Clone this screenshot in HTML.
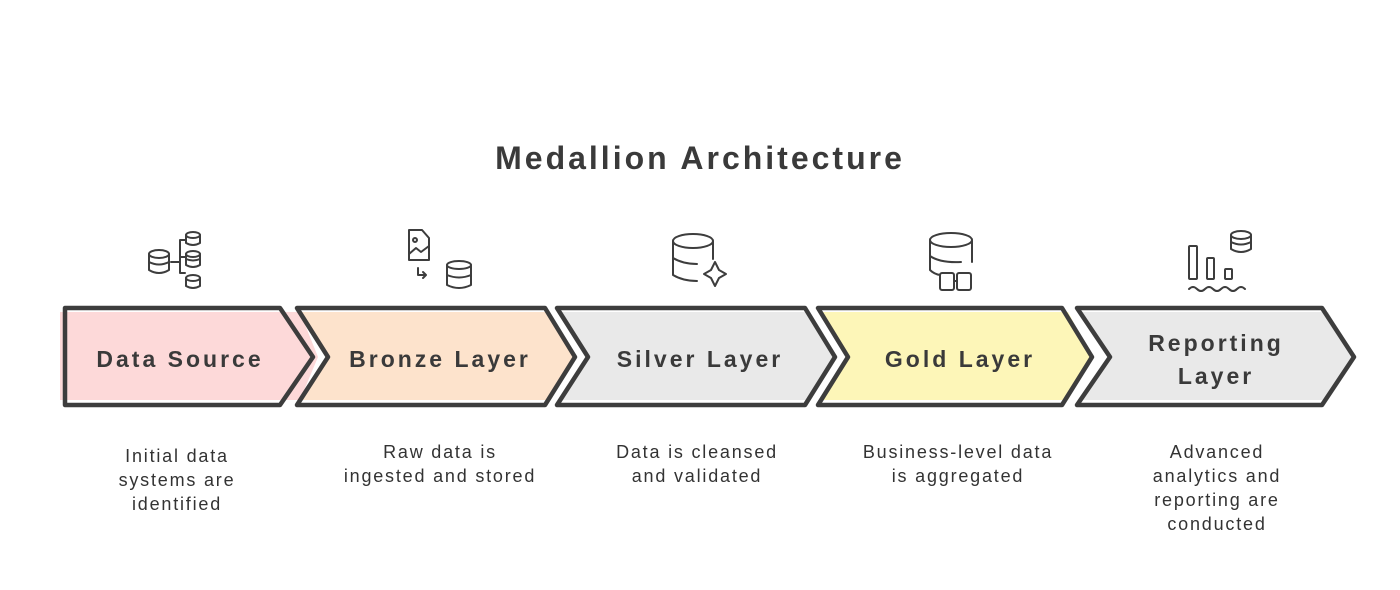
<!DOCTYPE html>
<html><head><meta charset="utf-8"><style>
body{margin:0;width:1400px;height:585px;background:#fff;overflow:hidden;font-family:"Liberation Sans",sans-serif}
</style></head><body>
<svg width="1400" height="585" viewBox="0 0 1400 585" xmlns="http://www.w3.org/2000/svg">
<g font-family="Liberation Sans, sans-serif" fill="#3a3a3a">
<text x="700" y="169" text-anchor="middle" font-size="32" font-weight="bold" letter-spacing="3">Medallion Architecture</text>
</g>
<g stroke="none">
<polygon points="60,312 300,312 318,357 300,400 60,400" fill="#fdd9d9"/>
<polygon points="300,312 550,312 575,357 550,400 300,400 328,357" fill="#fde3cc"/>
<polygon points="560,312 810,312 835,357 810,400 560,400 588,357" fill="#e9e9e9"/>
<polygon points="820,312 1068,312 1092,357 1068,400 820,400 848,357" fill="#fdf6b8"/>
<polygon points="1080,312 1328,312 1354,357 1328,400 1080,400 1110,357" fill="#e9e9e9"/>
</g>
<g fill="none" stroke="#3d3d3d" stroke-width="4.5" stroke-linejoin="round">
<polygon points="65,308 280,308 313,357 280,405 65,405"/>
<polygon points="297,308 545,308 575,357 545,405 297,405 328,357"/>
<polygon points="557,308 805,308 835,357 805,405 557,405 588,357"/>
<polygon points="818,308 1062,308 1092,357 1062,405 818,405 848,357"/>
<polygon points="1077,308 1322,308 1354,357 1322,405 1077,405 1110,357"/>
</g>
<g fill="none" stroke="#3d3d3d" stroke-width="2" stroke-linecap="round" stroke-linejoin="round">
<ellipse cx="159" cy="254" rx="10" ry="4"/><path d="M149 254v16q10 6 20 0v-16M149 262q10 5 20 0"/>
<path d="M171 262h8M180 240v33M180 240h5M180 273h5M180 257h5"/>
<ellipse cx="193" cy="235" rx="7" ry="3"/><path d="M186 235v8q7 4 14 0v-8"/>
<ellipse cx="193" cy="254" rx="7" ry="3"/><path d="M186 254v11q7 4 14 0v-11M186 259q7 3 14 0"/>
<ellipse cx="193" cy="278" rx="7" ry="3"/><path d="M186 278v8q7 4 14 0v-8"/>
<path d="M409 230h13l7 8v22h-20z"/><circle cx="415" cy="240" r="2"/><path d="M409 254l7-6 5 4 8-6"/>
<path d="M418 268v7h8M423 272l3 3-3 3"/>
<ellipse cx="459" cy="265" rx="12" ry="4"/><path d="M447 265v20q12 6 24 0v-20M447 275q12 5 24 0"/>
<ellipse cx="693" cy="241" rx="20" ry="7"/><path d="M673 241v34q10 6 24 6M713 241v18M673 258q10 6 24 6"/>
<path d="M715 262l4 8 7 4-7 4-4 8-4-8-7-4 7-4z"/>
<ellipse cx="951" cy="240" rx="21" ry="7"/><path d="M930 240v30q4 4 10 5M972 240v22M930 256q10 7 31 6"/>
<rect x="940" y="273" width="14" height="17" rx="2"/><rect x="957" y="273" width="14" height="17" rx="2"/><path d="M954 281h3"/>
<rect x="1189" y="246" width="8" height="33" rx="1"/><rect x="1207" y="258" width="7" height="21" rx="1"/>
<rect x="1225" y="269" width="7" height="10" rx="1"/>
<ellipse cx="1241" cy="235" rx="10" ry="4"/><path d="M1231 235v14q10 6 20 0v-14M1231 242q10 5 20 0"/>
<path d="M1189 289q4-4 8 0t8 0 8 0 8 0 8 0 8 0 8 0"/>
</g>
<g font-family="Liberation Sans, sans-serif" font-weight="bold" font-size="23" fill="#3a3a3a" text-anchor="middle" letter-spacing="3">
<text x="180" y="367">Data Source</text>
<text x="440" y="367">Bronze Layer</text>
<text x="700" y="367">Silver Layer</text>
<text x="960" y="367">Gold Layer</text>
<text x="1216" y="351">Reporting</text>
<text x="1216" y="384">Layer</text>
</g>
<g font-family="Liberation Sans, sans-serif" font-size="18" fill="#333" text-anchor="middle" letter-spacing="1.8">
<text x="177" y="462">Initial data</text><text x="177" y="486">systems are</text><text x="177" y="510">identified</text>
<text x="440" y="458">Raw data is</text><text x="440" y="482">ingested and stored</text>
<text x="697" y="458">Data is cleansed</text><text x="697" y="482">and validated</text>
<text x="958" y="458">Business-level data</text><text x="958" y="482">is aggregated</text>
<text x="1217" y="458">Advanced</text><text x="1217" y="482">analytics and</text><text x="1217" y="506">reporting are</text><text x="1217" y="530">conducted</text>
</g>
</svg>
</body></html>
